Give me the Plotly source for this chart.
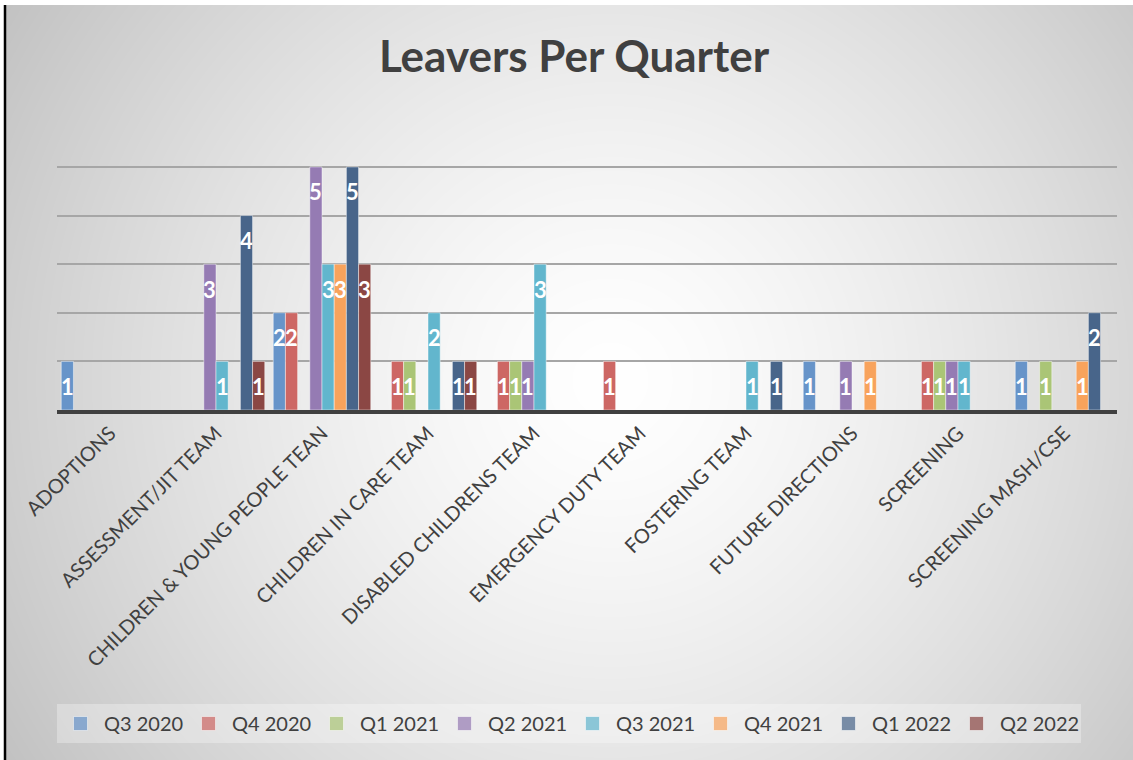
import base64
import struct
import zlib

import numpy as np
import plotly.graph_objects as go

# ---------------- data ----------------
categories = [
    "ADOPTIONS",
    "ASSESSMENT/JIT TEAM",
    "CHILDREN & YOUNG PEOPLE TEAN",
    "CHILDREN IN CARE TEAM",
    "DISABLED CHILDRENS TEAM",
    "EMERGENCY DUTY TEAM",
    "FOSTERING TEAM",
    "FUTURE DIRECTIONS",
    "SCREENING",
    "SCREENING MASH/CSE",
]
series_names = ["Q3 2020", "Q4 2020", "Q1 2021", "Q2 2021",
                "Q3 2021", "Q4 2021", "Q1 2022", "Q2 2022"]

q3_2020 = [1, None, 2, None, None, None, None, 1, None, 1]
q4_2020 = [None, None, 2, 1, 1, 1, None, None, 1, None]
q1_2021 = [None, None, None, 1, 1, None, None, None, 1, 1]
q2_2021 = [None, 3, 5, None, 1, None, None, 1, 1, None]
q3_2021 = [None, 1, 3, 2, 3, None, 1, None, 1, None]
q4_2021 = [None, None, 3, None, None, None, None, 1, None, 1]
q1_2022 = [None, 4, 5, 1, None, None, 1, None, None, 2]
q2_2022 = [None, 1, 3, 1, None, None, None, None, None, None]

series_values = [q3_2020, q4_2020, q1_2021, q2_2021,
                 q3_2021, q4_2021, q1_2022, q2_2022]

colors = ["#6794c9", "#cd6764", "#aac576", "#957bb3",
          "#62b6cd", "#f8a35c", "#48658a", "#8b4744"]

# ---------------- layout constants ----------------
W, H = 1133, 760
ML, MR, MT, MB = 57, 16, 165, 350
PW, PH = W - ML - MR, H - MT - MB
BARGAP = 0.08
FONT = "Lato"
TXT = "#404040"


def px_to_paper_x(px):
    return (px - ML) / PW


def px_to_paper_y(py):
    return (H - MB - py) / PH


# ---------------- radial gradient background (PNG) ----------------
def png_data_uri(arr):
    h, w = arr.shape
    raw = b"".join(b"\x00" + arr[i].tobytes() for i in range(h))

    def chunk(t, d):
        c = struct.pack(">I", len(d)) + t + d
        return c + struct.pack(">I", zlib.crc32(t + d) & 0xFFFFFFFF)

    png = (b"\x89PNG\r\n\x1a\n"
           + chunk(b"IHDR", struct.pack(">IIBBBBB", w, h, 8, 0, 0, 0, 0))
           + chunk(b"IDAT", zlib.compress(raw, 9))
           + chunk(b"IEND", b""))
    return "data:image/png;base64," + base64.b64encode(png).decode()


bx0, by0 = 6, 5
bw, bh = W - bx0, H - by0
cx, cy = 610 - bx0, 380 - by0
yy, xx = np.mgrid[0:bh, 0:bw].astype(float)
d = np.sqrt((xx - cx) ** 2 + (yy - cy) ** 2)
dmax = max(np.hypot(cx, cy), np.hypot(bw - cx, cy),
           np.hypot(cx, bh - cy), np.hypot(bw - cx, bh - cy))
r = np.clip(d / dmax, 0, 1)
g = 255 - (255 - 194) * r ** 1.4
grad = np.clip(g, 0, 255).astype(np.uint8)
bg_uri = png_data_uri(grad)

# ---------------- figure ----------------
fig = go.Figure()
for name, vals, col in zip(series_names, series_values, colors):
    fig.add_trace(go.Bar(
        name=name, x=categories, y=vals, showlegend=False,
        marker=dict(color=col, line=dict(color="rgba(255,255,255,0.45)", width=1)),
        hoverinfo="x+y+name",
    ))
# legend entries with larger square swatches
for name, col in zip(series_names, colors):
    fig.add_trace(go.Scatter(
        name=name, x=[None], y=[None], mode="markers", hoverinfo="skip",
        marker=dict(symbol="square", size=[14], color=col,
                    line=dict(color="rgba(255,255,255,0.6)", width=1)),
    ))

n = len(series_names)
slot = (1 - BARGAP) / n
annotations = []
for i, vals in enumerate(series_values):
    for j, v in enumerate(vals):
        if v:
            annotations.append(dict(
                x=j + (i - (n - 1) / 2) * slot, y=v, xref="x", yref="y",
                text=str(v), showarrow=False, yanchor="middle", yshift=-25,
                font=dict(family=FONT, size=22, color="white", weight="bold"),
            ))

fig.update_layout(
    width=W, height=H, autosize=False,
    margin=dict(l=ML, r=MR, t=MT, b=MB, pad=0),
    paper_bgcolor="white",
    plot_bgcolor="rgba(0,0,0,0)",
    barmode="group", bargap=BARGAP, bargroupgap=0,
    title=dict(text="Leavers Per Quarter", x=574 / W, xref="container",
               xanchor="center", y=1 - 57 / H, yref="container", yanchor="middle",
               font=dict(family=FONT, size=44, color=TXT, weight="bold")),
    xaxis=dict(tickangle=-45, tickfont=dict(family=FONT, size=20, color=TXT),
               showline=True, linecolor="#404040", linewidth=3.5,
               showgrid=False, ticks="", fixedrange=True),
    yaxis=dict(range=[0, 5.04], dtick=1, showticklabels=False,
               showgrid=True, gridcolor="#a6a6a6", gridwidth=1.5,
               zeroline=False, showline=False, fixedrange=True),
    legend=dict(orientation="h", x=0, xanchor="left",
                y=px_to_paper_y(704), yanchor="top",
                bgcolor="rgba(255,255,255,0.3)",
                font=dict(family=FONT, size=20, color=TXT),
                itemwidth=37,
                entrywidth=76, entrywidthmode="pixels", traceorder="normal"),
    annotations=annotations,
    images=[dict(source=bg_uri, xref="paper", yref="paper",
                 x=px_to_paper_x(bx0), y=px_to_paper_y(by0),
                 sizex=bw / PW, sizey=bh / PH, xanchor="left", yanchor="top",
                 sizing="stretch", layer="below")],
    shapes=[dict(type="line", xref="paper", yref="paper",
                 x0=px_to_paper_x(5), x1=px_to_paper_x(5),
                 y0=px_to_paper_y(H), y1=px_to_paper_y(by0),
                 line=dict(color="black", width=2.5))],
    showlegend=True,
)

fig.write_html("out.html")
